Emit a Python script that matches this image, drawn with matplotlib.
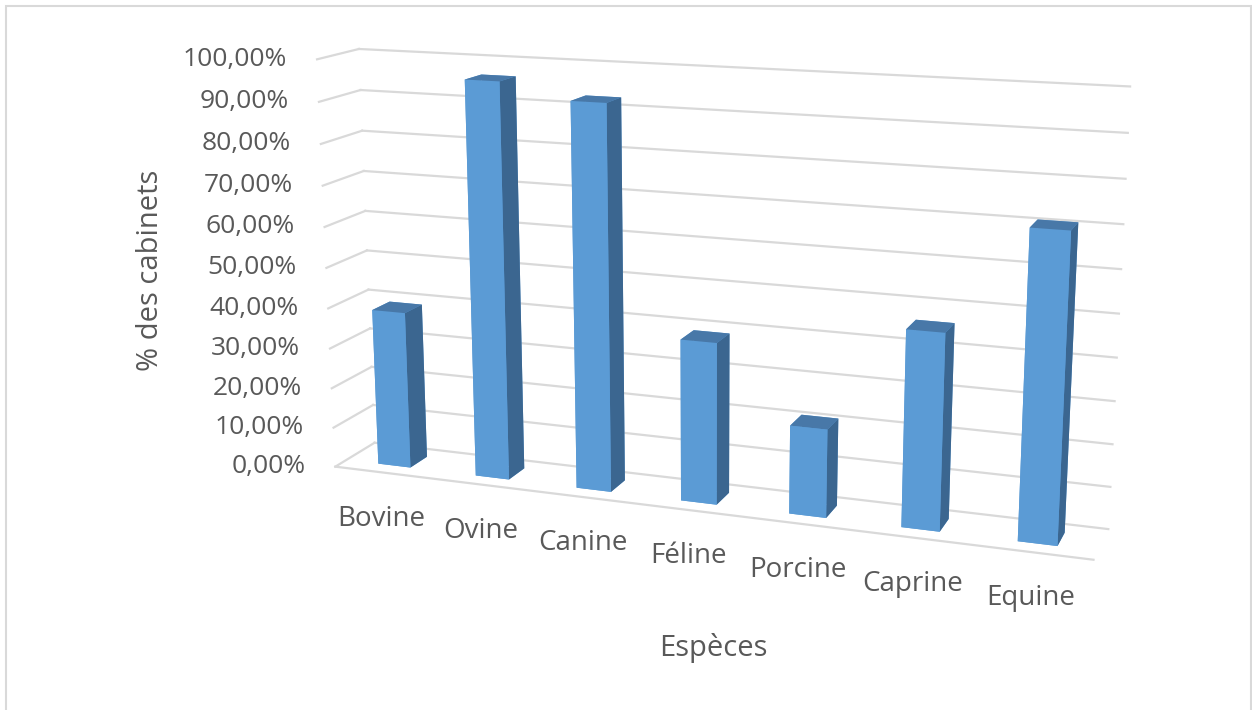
import numpy as np
import matplotlib
matplotlib.use("Agg")
import matplotlib.pyplot as plt
from matplotlib.transforms import offset_copy
from matplotlib.patches import Rectangle
from mpl_toolkits.mplot3d import proj3d

plt.rcParams["font.family"] = ["Open Sans", "DejaVu Sans"]

# Data
especes = ["Bovine", "Ovine", "Canine", "Féline", "Porcine", "Caprine", "Equine"]
pourcentages = [39.0, 96.2, 92.6, 38.9, 21.1, 46.1, 70.9]
graduations = [0, 10, 20, 30, 40, 50, 60, 70, 80, 90, 100]
titre_y = "% des cabinets"
titre_x = "Espèces"

W, H = 1252, 710
TXT = "#595959"
GRID = "#D9D9D9"
FACE, TOP, SIDE = "#5B9BD5", "#4878A8", "#3B6690"

fig = plt.figure(figsize=(W / 100, H / 100), dpi=100)

# 3-D scene: categories along x, a shallow floor along y, percentages along z
n = len(especes)
x0, x1 = -0.5, n - 0.5
depth = 0.7558
ax = fig.add_axes([244.9 / W, -40.0 / H, 896.3 / W, 896.3 / H],
                  projection="3d", computed_zorder=False)
ax.set_axis_off()
ax.set_xlim(x0, x1)
ax.set_ylim(0, depth)
ax.set_zlim(graduations[0], graduations[-1])
ax.view_init(elev=13.9, azim=-70.34)
ax.set_proj_type("persp", focal_length=0.4307)
ax.set_box_aspect((n, depth, 3.7805))

# Back wall and side wall gridlines, floor front edge
for v in graduations:
    ax.plot([x0, x1], [depth, depth], [v, v], color=GRID, lw=1.6, zorder=1)
    ax.plot([x0, x0], [0, depth], [v, v], color=GRID, lw=1.6, zorder=1)
ax.plot([x0, x1], [0, 0], [0, 0], color=GRID, lw=1.6, zorder=1)

# Columns: one colour per face (bottom, top, front, back, left, right)
w = 1 / 3
y_front = depth / 2 - w / 2
face_colors = []
for _ in range(n):
    face_colors += [FACE, TOP, FACE, FACE, FACE, SIDE]
ax.bar3d(np.arange(n) - w / 2, np.full(n, y_front), np.zeros(n),
         w, w, pourcentages, color=face_colors, shade=False, zorder=3)


def projected(x, y, z):
    """Screen-plane position of a 3-D point under the axes' projection."""
    xs, ys, _ = proj3d.proj_transform(np.atleast_1d(x), np.atleast_1d(y),
                                      np.atleast_1d(z), ax.get_proj())
    return xs[0], ys[0]


# Value axis labels along the front edge of the side wall
tick_tr = offset_copy(ax.transData, fig=fig, x=-30, y=0, units="dots")
for v in graduations:
    px, py = projected(x0, 0, v)
    ax.text2D(px, py, f"{v:.2f}%".replace(".", ","), transform=tick_tr,
              ha="right", va="center", fontsize=19, color=TXT, zorder=4)

# Category labels under the floor
cat_tr = offset_copy(ax.transData, fig=fig, x=-2, y=-46, units="dots")
for i, name in enumerate(especes):
    px, py = projected(i, 0, 0)
    ax.text2D(px, py, name, transform=cat_tr, ha="center", va="center",
              fontsize=20, color=TXT, zorder=4)

# Axis titles
fig.text(150 / W, 1 - 270 / H, titre_y, rotation=90, ha="center", va="center",
         fontsize=21, color=TXT)
fig.text(713 / W, 1 - 648 / H, titre_x, ha="center", va="center",
         fontsize=21, color=TXT)

# Chart area border
fig.add_artist(Rectangle((5.5 / W, -0.05), (1250.5 - 5.5) / W, (H - 6) / H + 0.05,
                         transform=fig.transFigure, fill=False, ec=GRID, lw=1.5))

fig.savefig("out.png", dpi=100)
